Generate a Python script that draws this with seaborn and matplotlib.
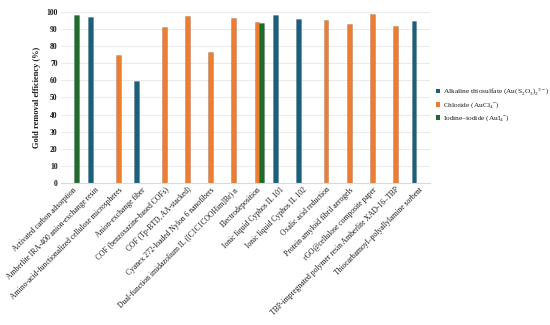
import pandas as pd
import seaborn as sns
import matplotlib.pyplot as plt
from matplotlib.patches import Patch

categories = [
    "Activated carbon adsorption",
    "Amberlite IRA-400 anion-exchange resin",
    "Amino-acid-functionalized cellulose microspheres",
    "Anion-exchange fiber",
    "COF (benzoxazine-based COFs)",
    "COF (Tp-BTD, AA-stacked)",
    "Cyanex 272-loaded Nylon 6 nanofibers",
    "Dual-function imidazolium IL ([C1C1COOHim]Br) n",
    "Electrodeposition",
    "Ionic liquid Cyphos IL 101",
    "Ionic liquid Cyphos IL 102",
    "Oxalic acid reduction",
    "Protein amyloid fibril aerogels",
    "rGO@cellulose composite paper",
    "TBP-impregnated polymer resin Amberlite XAD-16–TBP",
    "Thiocarbamoyl–polyallylamine sorbent",
]
series = [
    "Alkaline thiosulfate (Au(S$_2$O$_3$)$_2$$^{3-}$)",
    "Chloride (AuCl$_4$$^{-}$)",
    "Iodine–iodide (AuI$_4$$^{-}$)",
]
thiosulfate = {
    "Amberlite IRA-400 anion-exchange resin": 97,
    "Anion-exchange fiber": 59.5,
    "Ionic liquid Cyphos IL 101": 98,
    "Ionic liquid Cyphos IL 102": 96,
    "Thiocarbamoyl–polyallylamine sorbent": 95,
}
chloride = {
    "Amino-acid-functionalized cellulose microspheres": 75,
    "COF (benzoxazine-based COFs)": 91.5,
    "COF (Tp-BTD, AA-stacked)": 97.5,
    "Cyanex 272-loaded Nylon 6 nanofibers": 76.5,
    "Dual-function imidazolium IL ([C1C1COOHim]Br) n": 96.5,
    "Electrodeposition": 94,
    "Oxalic acid reduction": 95.5,
    "Protein amyloid fibril aerogels": 93,
    "rGO@cellulose composite paper": 99,
    "TBP-impregnated polymer resin Amberlite XAD-16–TBP": 92,
}
iodide = {
    "Activated carbon adsorption": 98,
    "Electrodeposition": 93.5,
}
colors = ["#1a5f7e", "#ed7d31", "#1f6b2c"]

rows = []
for name, data in zip(series, [thiosulfate, chloride, iodide]):
    for cat, val in data.items():
        rows.append({"Method": cat, "Series": name, "Value": val})
df = pd.DataFrame(rows)

sns.set_style("white")
plt.rcParams["font.family"] = ["Liberation Serif", "DejaVu Serif"]
plt.rcParams["mathtext.fontset"] = "custom"
plt.rcParams["mathtext.rm"] = "Liberation Serif"
plt.rcParams["text.color"] = "#1a1a1a"
plt.rcParams["xtick.color"] = "#1a1a1a"
plt.rcParams["ytick.color"] = "#1a1a1a"

fig = plt.figure(figsize=(5.5, 3.25), dpi=100)
ax = fig.add_axes([0.11, 0.437, 0.672, 0.526])

sns.barplot(
    data=df,
    x="Method",
    y="Value",
    hue="Series",
    order=categories,
    hue_order=series,
    palette=colors,
    saturation=1,
    width=0.6,
    dodge=True,
    legend=False,
    ax=ax,
)
for bar in ax.patches:
    bar.set_edgecolor("#00000040")
    bar.set_linewidth(0.4)

ax.set_ylim(0, 100)
ax.set_yticks(range(0, 101, 10))
ax.yaxis.grid(True, color="#e6e6e6", linewidth=0.6)
ax.set_axisbelow(True)
for side in ["top", "right", "left"]:
    ax.spines[side].set_visible(False)
ax.spines["bottom"].set_color("#d9d9d9")
ax.spines["bottom"].set_linewidth(0.8)
ax.tick_params(axis="both", length=0, labelsize=5.5, pad=2)
plt.setp(ax.get_xticklabels(), rotation=45, ha="right", rotation_mode="anchor")
for lab in ax.get_yticklabels():
    lab.set_fontweight("bold")
ax.set_xlabel("")
ax.set_ylabel("Gold removal efficiency (%)", fontsize=6, fontweight="bold",
              color="#1a1a1a")

handles = [Patch(facecolor=c, edgecolor="none") for c in colors]
fig.legend(
    handles,
    series,
    loc="center left",
    bbox_to_anchor=(0.79, 0.677),
    frameon=False,
    fontsize=5.3,
    borderpad=0.2,
    borderaxespad=0,
    handlelength=0.6,
    handleheight=0.6,
    handletextpad=0.3,
    labelspacing=0.45,
)

fig.savefig("out.png", dpi=100)
